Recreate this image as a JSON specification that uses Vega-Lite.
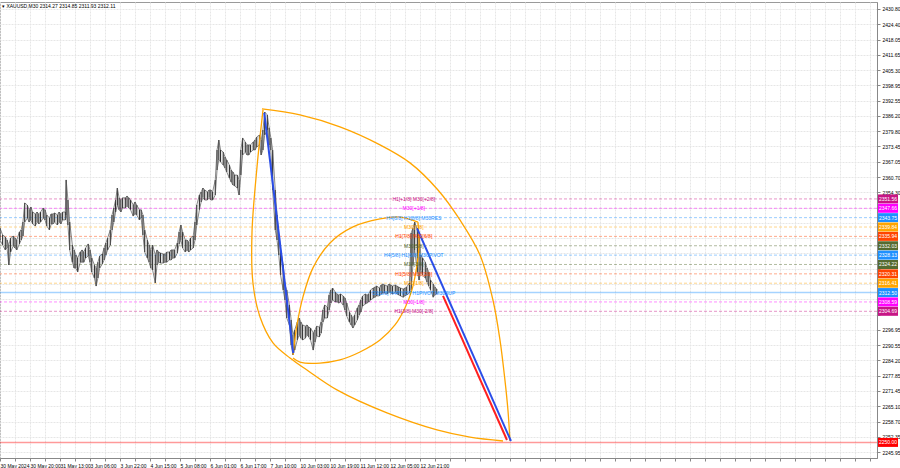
{
"$schema": "https://vega.github.io/schema/vega-lite/v6.json",
"width": 877, "height": 456,
"autosize": {"type": "none"},
"padding": {"left": 0, "top": 2, "right": 23, "bottom": 10},
"background": "white",
"title": {"text": "▾ XAUUSD,M30  2314.27 2314.85 2311.93 2312.11", "anchor": "start", "frame": "group", "orient": "top", "offset": -7, "dx": 2, "fontSize": 5, "fontWeight": "normal", "font": "Liberation Sans", "color": "#000"},
"config": {"view": {"stroke": "#9a9a9a", "strokeWidth": 1}, "font": "Liberation Sans"},
"datasets": {
"bars": [
{"i":0,"h":2339.4,"l":2334.4},{"i":3,"h":2336.5,"l":2332.3},{"i":6,"h":2335.7,"l":2330.3},{"i":8,"h":2334.4,"l":2331.1},{"i":10,"h":2332.3,"l":2324.0},{"i":12,"h":2335.3,"l":2329.4},{"i":15,"h":2336.1,"l":2331.9},{"i":17,"h":2335.3,"l":2331.1},{"i":19,"h":2334.4,"l":2330.3},{"i":22,"h":2337.8,"l":2332.8},{"i":24,"h":2338.6,"l":2334.4},{"i":26,"h":2341.9,"l":2336.1},{"i":28,"h":2349.9,"l":2341.9},{"i":31,"h":2349.0,"l":2343.6},{"i":33,"h":2347.0,"l":2341.9},{"i":35,"h":2348.2,"l":2342.8},{"i":37,"h":2346.1,"l":2341.1},{"i":40,"h":2345.3,"l":2340.3},{"i":42,"h":2346.1,"l":2341.9},{"i":44,"h":2345.3,"l":2341.1},{"i":46,"h":2346.1,"l":2341.9},{"i":49,"h":2347.8,"l":2343.6},{"i":51,"h":2347.0,"l":2342.8},{"i":53,"h":2344.9,"l":2340.3},{"i":56,"h":2343.6,"l":2338.6},{"i":58,"h":2345.3,"l":2341.1},{"i":60,"h":2345.3,"l":2341.1},{"i":62,"h":2345.7,"l":2341.9},{"i":65,"h":2344.9,"l":2340.7},{"i":67,"h":2346.1,"l":2341.9},{"i":69,"h":2345.3,"l":2341.1},{"i":71,"h":2346.1,"l":2342.8},{"i":74,"h":2346.1,"l":2342.8},{"i":75,"h":2359.5,"l":2344.9},{"i":77,"h":2351.1,"l":2340.7},{"i":79,"h":2341.9,"l":2330.3},
{"i":82,"h":2332.3,"l":2325.2},{"i":84,"h":2330.3,"l":2322.7},{"i":86,"h":2328.2,"l":2322.7},{"i":88,"h":2326.9,"l":2321.1},{"i":91,"h":2329.4,"l":2325.2},{"i":93,"h":2330.3,"l":2325.2},{"i":95,"h":2329.4,"l":2325.2},{"i":97,"h":2331.1,"l":2326.9},{"i":100,"h":2332.8,"l":2327.8},{"i":102,"h":2330.3,"l":2325.2},{"i":104,"h":2326.9,"l":2321.1},{"i":107,"h":2324.0,"l":2318.6},{"i":109,"h":2322.7,"l":2315.2},{"i":111,"h":2325.2,"l":2318.6},{"i":113,"h":2327.8,"l":2322.7},{"i":116,"h":2328.6,"l":2324.4},{"i":118,"h":2331.1,"l":2326.1},{"i":120,"h":2333.2,"l":2328.2},{"i":122,"h":2335.3,"l":2330.3},{"i":125,"h":2338.6,"l":2332.3},{"i":127,"h":2344.9,"l":2338.6},{"i":129,"h":2347.8,"l":2341.9},{"i":131,"h":2351.1,"l":2346.1},{"i":133,"h":2356.1,"l":2349.0},{"i":135,"h":2352.0,"l":2347.0},{"i":137,"h":2351.1,"l":2346.1},{"i":139,"h":2352.0,"l":2347.8},{"i":142,"h":2352.0,"l":2347.8},{"i":144,"h":2352.8,"l":2348.6},{"i":146,"h":2352.0,"l":2347.8},{"i":148,"h":2351.1,"l":2347.0},{"i":151,"h":2349.0,"l":2344.4},{"i":153,"h":2350.3,"l":2345.3},{"i":155,"h":2349.0,"l":2344.9},{"i":158,"h":2347.0,"l":2342.8},{"i":160,"h":2347.0,"l":2343.6},{"i":162,"h":2344.9,"l":2336.5},{"i":164,"h":2338.6,"l":2329.4},{"i":167,"h":2334.4,"l":2326.9},{"i":169,"h":2332.3,"l":2325.2},{"i":171,"h":2330.3,"l":2322.7},{"i":173,"h":2332.3,"l":2321.9},{"i":176,"h":2328.2,"l":2316.5},{"i":178,"h":2330.3,"l":2324.0},{"i":180,"h":2329.4,"l":2325.2},{"i":182,"h":2329.0,"l":2324.8},{"i":185,"h":2328.6,"l":2324.8},{"i":187,"h":2328.6,"l":2325.2},{"i":189,"h":2329.4,"l":2325.2},{"i":192,"h":2329.4,"l":2326.1},{"i":194,"h":2330.3,"l":2326.1},{"i":196,"h":2330.3,"l":2326.9},{"i":198,"h":2330.3,"l":2326.9},{"i":201,"h":2333.2,"l":2329.0},{"i":203,"h":2337.8,"l":2332.8},{"i":205,"h":2340.7,"l":2334.4},{"i":207,"h":2337.8,"l":2331.1},{"i":210,"h":2334.4,"l":2329.4},{"i":212,"h":2334.4,"l":2330.3},{"i":214,"h":2333.6,"l":2329.4},{"i":216,"h":2335.3,"l":2330.3},{"i":219,"h":2336.1,"l":2331.1},{"i":221,"h":2341.9,"l":2334.4},{"i":223,"h":2349.0,"l":2340.7},{"i":226,"h":2353.2,"l":2347.0},{"i":228,"h":2354.5,"l":2350.3},{"i":230,"h":2356.1,"l":2352.0},{"i":232,"h":2355.3,"l":2351.1},{"i":235,"h":2354.5,"l":2351.1},{"i":237,"h":2355.3,"l":2352.0},{"i":239,"h":2355.3,"l":2351.1},{"i":241,"h":2354.5,"l":2351.1},{"i":244,"h":2359.5,"l":2353.2},{"i":246,"h":2372.0,"l":2363.6},{"i":248,"h":2376.1,"l":2367.8},{"i":250,"h":2372.0,"l":2367.0},{"i":253,"h":2371.1,"l":2365.7},{"i":255,"h":2369.1,"l":2364.5},{"i":257,"h":2367.8,"l":2362.8},{"i":260,"h":2365.7,"l":2360.3},{"i":262,"h":2363.6,"l":2358.6},{"i":264,"h":2362.8,"l":2357.4},{"i":266,"h":2361.5,"l":2357.0},{"i":269,"h":2361.5,"l":2356.1},{"i":271,"h":2359.5,"l":2353.2},{"i":273,"h":2372.0,"l":2361.5},{"i":275,"h":2377.0,"l":2369.9},{"i":278,"h":2375.3,"l":2371.1},{"i":280,"h":2374.1,"l":2369.9},{"i":282,"h":2374.1,"l":2369.9},{"i":284,"h":2374.1,"l":2371.1},{"i":287,"h":2375.3,"l":2372.0},{"i":289,"h":2376.1,"l":2372.0},{"i":291,"h":2377.4,"l":2373.2},{"i":294,"h":2378.2,"l":2374.1},{"i":296,"h":2376.1,"l":2369.9},{"i":298,"h":2380.3,"l":2372.0},{"i":300,"h":2387.8,"l":2378.2},{"i":303,"h":2386.6,"l":2380.3},{"i":305,"h":2381.2,"l":2374.1},{"i":307,"h":2377.0,"l":2372.0},{"i":309,"h":2372.0,"l":2355.3},{"i":312,"h":2355.3,"l":2338.6},{"i":314,"h":2344.9,"l":2334.4},{"i":316,"h":2336.5,"l":2328.2},{"i":318,"h":2330.3,"l":2319.8},{"i":321,"h":2324.0,"l":2313.6},{"i":323,"h":2315.7,"l":2309.4},{"i":325,"h":2313.6,"l":2301.9},{"i":328,"h":2307.3,"l":2299.0},{"i":330,"h":2301.1,"l":2290.6},{"i":332,"h":2294.8,"l":2286.5},{"i":334,"h":2296.9,"l":2288.5},{"i":337,"h":2300.2,"l":2292.7},{"i":339,"h":2301.9,"l":2294.8},{"i":341,"h":2300.2,"l":2293.5},{"i":343,"h":2299.0,"l":2292.7},{"i":346,"h":2298.5,"l":2293.5},{"i":348,"h":2299.0,"l":2294.8},{"i":350,"h":2298.1,"l":2294.0},{"i":352,"h":2297.7,"l":2292.7},{"i":355,"h":2295.6,"l":2288.5},{"i":357,"h":2296.9,"l":2291.9},{"i":359,"h":2298.5,"l":2294.4},{"i":362,"h":2298.1,"l":2294.0},{"i":364,"h":2300.2,"l":2295.6},{"i":366,"h":2305.2,"l":2300.2},{"i":368,"h":2307.3,"l":2301.9},{"i":371,"h":2306.5,"l":2301.9},{"i":373,"h":2311.5,"l":2305.2},{"i":375,"h":2313.6,"l":2308.1},{"i":377,"h":2314.4,"l":2309.4},{"i":380,"h":2312.7,"l":2308.6},{"i":382,"h":2311.9,"l":2308.6},{"i":384,"h":2311.5,"l":2308.1},{"i":386,"h":2311.9,"l":2308.6},{"i":389,"h":2311.1,"l":2307.3},{"i":391,"h":2310.2,"l":2305.2},{"i":393,"h":2308.1,"l":2302.7},{"i":396,"h":2304.4,"l":2300.2},{"i":398,"h":2303.1,"l":2299.0},{"i":400,"h":2301.9,"l":2297.7},{"i":402,"h":2303.1,"l":2299.0},{"i":405,"h":2306.1,"l":2301.1},{"i":407,"h":2307.3,"l":2303.1},{"i":409,"h":2309.4,"l":2304.4},{"i":411,"h":2311.1,"l":2306.9},{"i":414,"h":2311.9,"l":2307.7},{"i":416,"h":2311.5,"l":2308.1},{"i":418,"h":2311.9,"l":2308.6},{"i":420,"h":2313.6,"l":2309.4},{"i":423,"h":2314.4,"l":2310.2},{"i":425,"h":2314.8,"l":2310.6},{"i":427,"h":2315.2,"l":2311.1},{"i":430,"h":2314.4,"l":2311.1},{"i":432,"h":2315.7,"l":2311.9},{"i":434,"h":2316.1,"l":2312.3},{"i":436,"h":2315.7,"l":2312.3},{"i":439,"h":2315.2,"l":2311.9},{"i":441,"h":2316.1,"l":2312.7},{"i":443,"h":2315.7,"l":2312.3},{"i":445,"h":2315.2,"l":2311.9},{"i":448,"h":2315.7,"l":2312.7},{"i":450,"h":2315.2,"l":2311.9},{"i":452,"h":2314.8,"l":2311.5},{"i":454,"h":2314.4,"l":2311.1},{"i":457,"h":2314.0,"l":2310.6},{"i":459,"h":2314.4,"l":2311.1},{"i":461,"h":2314.8,"l":2311.5},{"i":464,"h":2316.5,"l":2312.3},{"i":466,"h":2337.3,"l":2313.6},{"i":468,"h":2339.4,"l":2324.0},{"i":470,"h":2341.9,"l":2330.3},{"i":473,"h":2338.6,"l":2321.1},{"i":475,"h":2336.5,"l":2317.7},{"i":477,"h":2328.2,"l":2321.9},{"i":479,"h":2326.9,"l":2319.8},{"i":482,"h":2325.2,"l":2318.6},{"i":484,"h":2322.7,"l":2316.9},{"i":486,"h":2321.1,"l":2315.2},{"i":488,"h":2317.7,"l":2313.6},{"i":491,"h":2316.1,"l":2310.6},{"i":493,"h":2314.8,"l":2311.5},{"i":495,"h":2314.0,"l":2311.9}
],
"levels": [
{"p":2351.5625,"lvl":"+2/8","txt":"H1[+1/8] M30[+2/8]","tag":"2351.56"},
{"p":2347.65625,"lvl":"+1/8","txt":"M30[+1/8]","tag":"2347.66"},
{"p":2343.75,"lvl":"8/8","txt":"H4[6/8] H1[8/8] M30RES","tag":"2343.75"},
{"p":2339.84375,"lvl":"7/8","txt":"M30[7/8]","tag":"2339.84"},
{"p":2335.9375,"lvl":"6/8","txt":"H1[7/8] M30[6/8]","tag":"2335.94"},
{"p":2332.03125,"lvl":"5/8","txt":"M30[5/8]","tag":"2332.03"},
{"p":2328.125,"lvl":"4/8","txt":"H4[5/8] H1[6/8] M30PIVOT","tag":"2328.13"},
{"p":2324.21875,"lvl":"3/8","txt":"M30[3/8]","tag":"2324.22"},
{"p":2320.3125,"lvl":"2/8","txt":"H1[5/8] M30[2/8]","tag":"2320.31"},
{"p":2316.40625,"lvl":"1/8","txt":"M30[1/8]","tag":"2316.41"},
{"p":2312.5,"lvl":"0/8","txt":"D1[5/8] H4PIVOT H1PIVOT M30SUP","tag":"2312.50"},
{"p":2308.59375,"lvl":"-1/8","txt":"M30[-1/8]","tag":"2308.59"},
{"p":2304.6875,"lvl":"-2/8","txt":"H1[3/8] M30[-2/8]","tag":"2304.69"},
{"p":2250.0,"lvl":"target","txt":"","tag":"2250.00"}
],
"arcs": [
{"arc":"A","k":0,"i":296.9,"p":2389.1},{"arc":"A","k":1,"i":340.0,"p":2386.6},{"arc":"A","k":2,"i":385.3,"p":2381.6},{"arc":"A","k":3,"i":430.7,"p":2374.1},{"arc":"A","k":4,"i":464.7,"p":2366.6},{"arc":"A","k":5,"i":496.4,"p":2355.3},{"arc":"A","k":6,"i":521.3,"p":2342.8},{"arc":"A","k":7,"i":544.0,"p":2328.2},{"arc":"A","k":8,"i":558.7,"p":2309.4},{"arc":"A","k":9,"i":566.7,"p":2292.7},{"arc":"A","k":10,"i":572.3,"p":2276.0},{"arc":"A","k":11,"i":575.7,"p":2263.5},{"arc":"A","k":12,"i":578.0,"p":2250.6},
{"arc":"B","k":0,"i":298.1,"p":2388.7},{"arc":"B","k":1,"i":291.3,"p":2364.9},{"arc":"B","k":2,"i":285.6,"p":2337.4},{"arc":"B","k":3,"i":286.7,"p":2316.5},{"arc":"B","k":4,"i":294.7,"p":2302.3},{"arc":"B","k":5,"i":309.4,"p":2291.5},{"arc":"B","k":6,"i":328.7,"p":2285.2},{"arc":"B","k":7,"i":347.9,"p":2280.2},{"arc":"B","k":8,"i":381.9,"p":2271.9},{"arc":"B","k":9,"i":438.6,"p":2262.3},{"arc":"B","k":10,"i":495.3,"p":2255.2},{"arc":"B","k":11,"i":532.7,"p":2252.2},{"arc":"B","k":12,"i":570.1,"p":2250.6},
{"arc":"C","k":0,"i":332.1,"p":2286.5},{"arc":"C","k":1,"i":336.6,"p":2299.0},{"arc":"C","k":2,"i":343.4,"p":2310.7},{"arc":"C","k":3,"i":354.7,"p":2322.8},{"arc":"C","k":4,"i":374.0,"p":2333.2},{"arc":"C","k":5,"i":400.1,"p":2339.9},{"arc":"C","k":6,"i":430.7,"p":2343.2},{"arc":"C","k":7,"i":453.3,"p":2344.0},{"arc":"C","k":8,"i":473.7,"p":2341.9},
{"arc":"D","k":0,"i":332.1,"p":2285.2},{"arc":"D","k":1,"i":340.0,"p":2283.5},{"arc":"D","k":2,"i":362.7,"p":2283.1},{"arc":"D","k":3,"i":385.3,"p":2284.4},{"arc":"D","k":4,"i":408.0,"p":2287.7},{"arc":"D","k":5,"i":430.7,"p":2292.7},{"arc":"D","k":6,"i":447.7,"p":2299.0},{"arc":"D","k":7,"i":459.0,"p":2306.1},{"arc":"D","k":8,"i":466.9,"p":2313.6},{"arc":"D","k":9,"i":472.6,"p":2324.0},{"arc":"D","k":10,"i":474.9,"p":2332.3},{"arc":"D","k":11,"i":473.7,"p":2341.9}
],
"segs": [
{"ln":"b1","k":0,"i":299.5,"p":2387.5},{"ln":"b1","k":1,"i":332.4,"p":2287.2},
{"ln":"b2","k":0,"i":472.6,"p":2339.4},{"ln":"b2","k":1,"i":579.1,"p":2250.6},
{"ln":"r","k":0,"i":502.1,"p":2311.1},{"ln":"r","k":1,"i":574.6,"p":2251.0}
]
},
"layer": [
{
"data": {"name": "levels"},
"transform": [{"filter": "datum.lvl != '0/8' && datum.lvl != 'target'"}],
"mark": {"type": "rule", "strokeDash": [3, 2], "strokeWidth": 1, "opacity": 0.45},
"encoding": {
"y": {"field": "p", "type": "quantitative"},
"color": {"field": "lvl", "type": "nominal", "legend": null, "scale": {"domain": ["+2/8","+1/8","8/8","7/8","6/8","5/8","4/8","3/8","2/8","1/8","0/8","-1/8","-2/8","target"], "range": ["#C71585","#FF00FF","#1E90FF","#FFA500","#FF4500","#556B2F","#1E90FF","#556B2F","#FF4500","#FFA500","#1E90FF","#FF00FF","#C71585","#FF0000"]}}
}
},
{
"data": {"name": "levels"},
"transform": [{"filter": "datum.lvl == '0/8' || datum.lvl == 'target'"}],
"mark": {"type": "rule", "strokeWidth": 1.5, "opacity": 0.4},
"encoding": {
"y": {"field": "p", "type": "quantitative"},
"color": {"field": "lvl", "type": "nominal", "legend": null}
}
},
{
"data": {"name": "bars"},
"mark": {"type": "rule", "strokeWidth": 1.1, "color": "#2a2a2a"},
"encoding": {
"x": {"field": "i", "type": "quantitative", "scale": {"domain": [0, 994], "nice": false, "zero": false},
"axis": {"orient": "bottom", "title": null, "zindex": 0, "tickCount": 500, "values": [0,17,34,51,68,85,102,119,136,153,170,187,204,221,238,255,272,289,306,323,340,357,374,391,408,425,442,459,476,493,510,527,544,561,578,595,612,629,646,663,680,697,714,731,748,765,782,799,816,833,850,867,884,901,918,935,952,969,986],
"labelExpr": "datum.value % 34 == 0 && datum.value <= 476 ? ['30 May 2024','30 May 20:00','31 May 13:00','3 Jun 06:00','3 Jun 22:00','4 Jun 15:00','5 Jun 08:00','6 Jun 01:00','6 Jun 17:00','7 Jun 10:00','10 Jun 03:00','10 Jun 19:00','11 Jun 12:00','12 Jun 05:00','12 Jun 21:00'][datum.value / 34] : ''",
"labelAlign": "left", "labelBaseline": "top", "labelFontSize": 5, "labelFont": "Liberation Sans", "labelColor": "#000", "labelPadding": 2, "labelOverlap": false, "labelFlush": false, "labelBound": false,
"tickSize": 3, "tickColor": "#888", "domainColor": "#888", "grid": true, "gridColor": "#e6e6e6", "gridDash": [2, 1]}},
"y": {"field": "h", "type": "quantitative", "scale": {"domain": [2243.5, 2433.7], "nice": false, "zero": false},
"axis": {"orient": "right", "title": null, "zindex": 0, "tickCount": 500, "values": [2430.80,2424.40,2418.05,2411.65,2405.30,2398.95,2392.55,2386.20,2379.80,2373.45,2367.05,2360.70,2354.30,2347.95,2341.55,2335.20,2328.80,2322.45,2316.10,2309.70,2303.35,2296.95,2290.55,2284.20,2277.85,2271.45,2265.10,2258.70,2252.35,2245.95],
"format": ".2f", "labelExpr": "datum.value > 2300 && datum.value < 2350 ? '' : datum.label", "labelFontSize": 5, "labelFont": "Liberation Sans", "labelColor": "#000", "labelPadding": 2, "labelOverlap": false, "labelFlush": false, "labelBound": false,
"tickSize": 3, "tickColor": "#888", "domainColor": "#888", "grid": true, "gridColor": "#e6e6e6", "gridDash": [2, 1]}},
"y2": {"field": "l"}
}
},
{
"data": {"name": "bars"},
"mark": {"type": "line", "strokeWidth": 0.7, "color": "#555555"},
"encoding": {
"x": {"field": "i", "type": "quantitative"},
"y": {"field": "h", "type": "quantitative"}
}
},
{
"data": {"name": "bars"},
"mark": {"type": "line", "strokeWidth": 0.7, "color": "#555555"},
"encoding": {
"x": {"field": "i", "type": "quantitative"},
"y": {"field": "l", "type": "quantitative"}
}
},
{
"data": {"name": "arcs"},
"mark": {"type": "line", "interpolate": "catmull-rom", "color": "#FFA500", "strokeWidth": 1.3},
"encoding": {
"x": {"field": "i", "type": "quantitative"},
"y": {"field": "p", "type": "quantitative"},
"detail": {"field": "arc"},
"order": {"field": "k", "type": "quantitative"}
}
},
{
"data": {"name": "segs"},
"mark": {"type": "line", "strokeWidth": 2},
"encoding": {
"x": {"field": "i", "type": "quantitative"},
"y": {"field": "p", "type": "quantitative"},
"detail": {"field": "ln"},
"stroke": {"field": "ln", "type": "nominal", "legend": null, "scale": {"domain": ["b1", "b2", "r"], "range": ["#2a4de8", "#2a4de8", "#ff2020"]}},
"order": {"field": "k", "type": "quantitative"}
}
},
{
"data": {"name": "levels"},
"transform": [{"filter": "datum.txt != ''"}],
"mark": {"type": "text", "align": "center", "baseline": "middle", "fontSize": 5, "font": "Liberation Sans"},
"encoding": {
"x": {"datum": 469, "type": "quantitative"},
"y": {"field": "p", "type": "quantitative"},
"text": {"field": "txt"},
"color": {"field": "lvl", "type": "nominal", "legend": null}
}
},
{
"data": {"name": "levels"},
"mark": {"type": "rect", "clip": false, "yOffset": -4.5, "y2Offset": 4.5},
"encoding": {
"x": {"value": {"expr": "width + 1"}},
"x2": {"value": {"expr": "width + 21"}},
"y": {"field": "p", "type": "quantitative"},
"y2": {"field": "p"},
"color": {"field": "lvl", "type": "nominal", "legend": null}
}
},
{
"data": {"name": "levels"},
"mark": {"type": "text", "clip": false, "align": "center", "baseline": "middle", "fontSize": 5, "font": "Liberation Sans", "color": "white"},
"encoding": {
"x": {"value": {"expr": "width + 11"}},
"y": {"field": "p", "type": "quantitative"},
"text": {"field": "tag"}
}
}
]
}
